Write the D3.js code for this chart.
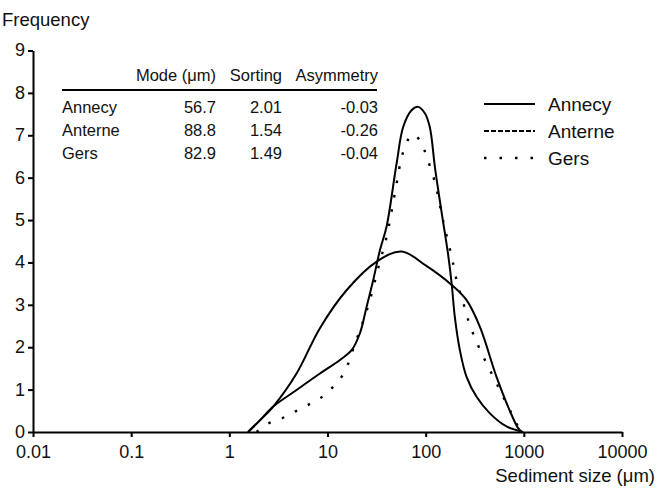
<!DOCTYPE html>
<html><head><meta charset="utf-8">
<script src="https://cdn.jsdelivr.net/npm/d3@7"></script>
<style>
html,body{margin:0;padding:0;background:#fff;}
svg{display:block;font-family:"Liberation Sans",Arial,sans-serif;}
</style></head>
<body><svg id="c" width="657" height="488"></svg>
<script>
// ---- data ----
const xTickValues = [0.01, 0.1, 1, 10, 100, 1000, 10000];
const xTickLabels = ["0.01", "0.1", "1", "10", "100", "1000", "10000"];
const yTickValues = [0, 1, 2, 3, 4, 5, 6, 7, 8, 9];

const seriesNames = ["Annecy", "Anterne", "Gers"];

const annecySize = [1.55, 2.0, 2.8, 4.84, 8.37, 15.7, 31.7, 56.7, 100, 184, 261, 357, 527, 720, 875, 955];
const annecyFreq = [0, 0.25, 0.6, 1.38, 2.45, 3.35, 4.02, 4.26, 3.93, 3.47, 3.11, 2.48, 1.30, 0.50, 0.09, 0];

const anterneSize = [1.55, 2.0, 2.8, 4.84, 8.37, 13.4, 17.6, 21.4, 25, 29.2, 34.2, 40, 50.6, 59.1, 71.8, 83.9, 98.1, 110, 125, 145, 169, 184, 198, 223, 261, 330, 451, 667, 984];
const anterneFreq = [0, 0.25, 0.6, 0.99, 1.38, 1.70, 1.93, 2.33, 2.95, 3.58, 4.29, 4.85, 6.34, 7.2, 7.59, 7.67, 7.52, 7.2, 6.2, 5.2, 4.2, 3.5, 2.72, 1.93, 1.30, 0.83, 0.44, 0.13, 0];

const gersSize = [1.9, 2.49, 3.41, 4.66, 6.36, 8.37, 11.0, 13.9, 16.3, 18.3, 21.4, 25, 29.2, 34, 40, 50, 58, 69, 76, 90.7, 102, 124, 150, 184, 198, 214, 238, 261, 294, 335, 386, 451, 527, 616, 720, 841, 955];
const gersFreq = [0, 0.2, 0.32, 0.48, 0.64, 0.79, 1.03, 1.30, 1.62, 1.97, 2.4, 2.85, 3.4, 4.0, 4.6, 5.8, 6.55, 6.96, 7.02, 6.81, 6.5, 5.9, 5.0, 4.14, 3.78, 3.43, 3.11, 2.76, 2.41, 2.09, 1.78, 1.46, 1.15, 0.83, 0.52, 0.20, 0];

const tableHeaders = ["Mode (μm)", "Sorting", "Asymmetry"];
const modeValues = ["56.7", "88.8", "82.9"];
const sortingValues = ["2.01", "1.54", "1.49"];
const asymmetryValues = ["-0.03", "-0.26", "-0.04"];

const yTitle = "Frequency";
const xTitle = "Sediment size (μm)";

// ---- chart ----
const svg = d3.select("#c");
const x = d3.scaleLog().domain([0.01, 10000]).range([33, 622]);
const y = d3.scaleLinear().domain([0, 9]).range([432, 50.5]);
const FONT = 18;
const INK = "#111";

const yAxis = svg.append("g").attr("transform", "translate(33,0)")
  .call(d3.axisLeft(y).tickValues(yTickValues).tickFormat(d3.format("d")).tickSize(5).tickSizeOuter(0).tickPadding(3));
const xAxis = svg.append("g").attr("transform", "translate(0,432)")
  .call(d3.axisBottom(x).tickValues(xTickValues).tickFormat((d, i) => xTickLabels[i]).tickSize(5).tickSizeOuter(0).tickPadding(8));
[xAxis, yAxis].forEach(g => {
  g.selectAll("path,line").attr("stroke", "#000").attr("stroke-width", 2);
  g.selectAll("text").attr("font-size", FONT).attr("fill", INK).attr("font-family", "Liberation Sans, Arial, sans-serif");
});
yAxis.selectAll("text").attr("dy", "0.3em");

svg.append("text").attr("x", 2).attr("y", 26).attr("font-size", 18.5).attr("fill", INK).text(yTitle);
svg.append("text").attr("x", 655).attr("y", 482).attr("text-anchor", "end").attr("font-size", 18.5).attr("fill", INK).text(xTitle);

const styles = [
  { dash: null, width: 2 },
  { dash: null, width: 2 },
  { dash: "2.5,12", width: 2.4 }
];
const series = [
  d3.zip(annecySize, annecyFreq),
  d3.zip(anterneSize, anterneFreq),
  d3.zip(gersSize, gersFreq)
];
const line = d3.line().x(d => x(d[0])).y(d => Math.min(y(0), y(d[1]))).curve(d3.curveCatmullRom.alpha(0.5));
series.forEach((s, i) => {
  svg.append("path").datum(s).attr("d", line).attr("fill", "none")
    .attr("stroke", "#000").attr("stroke-width", styles[i].width)
    .attr("stroke-dasharray", styles[i].dash).attr("stroke-linejoin", "round");
});

// legend
const legendDash = [null, "5,2", "2.5,13"];
const legendY = [104, 131, 158];
seriesNames.forEach((n, i) => {
  svg.append("line").attr("x1", 484).attr("x2", 535).attr("y1", legendY[i]).attr("y2", legendY[i])
    .attr("stroke", "#000").attr("stroke-width", i === 2 ? 2.4 : 2).attr("stroke-dasharray", legendDash[i]);
  svg.append("text").attr("x", 548).attr("y", legendY[i]).attr("dy", "0.35em").attr("font-size", 19).attr("fill", INK).text(n);
});

// table
const TF = 16.5;
const colRight = [216, 282, 378];
tableHeaders.forEach((h, j) => {
  svg.append("text").attr("x", colRight[j]).attr("y", 81).attr("text-anchor", "end").attr("font-size", TF).attr("fill", INK).text(h);
});
svg.append("line").attr("x1", 62).attr("x2", 377).attr("y1", 90).attr("y2", 90).attr("stroke", "#000").attr("stroke-width", 2);
const rowY = [113, 136, 159];
seriesNames.forEach((n, i) => {
  svg.append("text").attr("x", 62).attr("y", rowY[i]).attr("font-size", TF).attr("fill", INK).text(n);
  [modeValues[i], sortingValues[i], asymmetryValues[i]].forEach((v, j) => {
    svg.append("text").attr("x", colRight[j]).attr("y", rowY[i]).attr("text-anchor", "end").attr("font-size", TF).attr("fill", INK).text(v);
  });
});
</script></body></html>
